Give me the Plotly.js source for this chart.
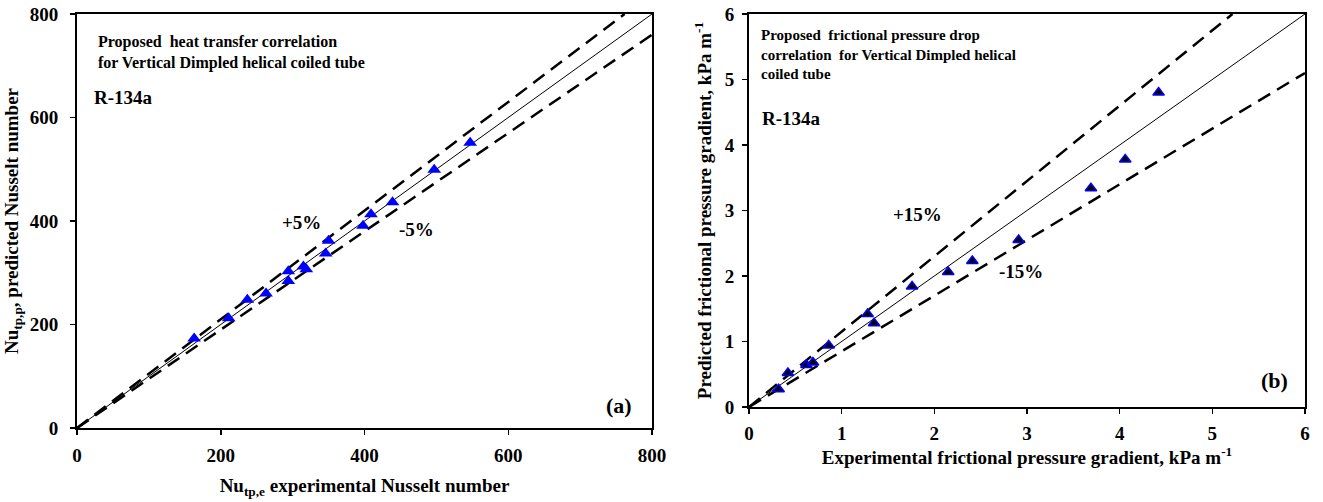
<!DOCTYPE html>
<html>
<head>
<meta charset="utf-8">
<script src="https://cdn.plot.ly/plotly-3.0.1.min.js"></script>
<style>html,body{margin:0;padding:0;background:#fff}#chart{width:1323px;height:502px}</style>
</head>
<body>
<div id="chart"></div>
<script>
// (a) heat transfer: experimental vs predicted Nusselt number
const nuExp  = [163, 211, 237, 263, 294, 294, 315, 319, 346, 350, 398, 409, 439, 497, 547];
const nuPred = [173, 212, 248, 260, 284, 303, 312, 307, 337, 362, 391, 413, 436, 499, 551];
// (b) frictional pressure gradient, kPa/m
const dpExp  = [0.32, 0.42, 0.62, 0.69, 0.86, 1.28, 1.35, 1.76, 2.15, 2.41, 2.91, 3.69, 4.06, 4.42];
const dpPred = [0.27, 0.52, 0.64, 0.68, 0.94, 1.42, 1.28, 1.84, 2.06, 2.23, 2.55, 3.34, 3.78, 4.80];
const bandA = 0.05, bandB = 0.15;
const maxA = 800, maxB = 6;
const ticksA = [0, 200, 400, 600, 800];
const ticksB = [0, 1, 2, 3, 4, 5, 6];

const W = 1323, H = 502;
const px = v => v / W, py = v => 1 - v / H;
const FONT = 'Liberation Serif, Times New Roman, serif';

function refLines(max, band, xa, ya) {
  const dash = {color: '#000', width: 2.5, dash: '14px,8px'};
  return [
    {x: [0, max], y: [0, max], mode: 'lines', line: {color: '#000', width: 1}, xaxis: xa, yaxis: ya, hoverinfo: 'skip'},
    {x: [0, max / (1 + band)], y: [0, max], mode: 'lines', line: dash, xaxis: xa, yaxis: ya, hoverinfo: 'skip'},
    {x: [0, max], y: [0, max * (1 - band)], mode: 'lines', line: dash, xaxis: xa, yaxis: ya, hoverinfo: 'skip'}
  ];
}

const traces = [
  ...refLines(maxA, bandA, 'x', 'y'),
  {x: nuExp, y: nuPred, mode: 'markers', xaxis: 'x', yaxis: 'y',
   marker: {symbol: 'triangle-up', size: 12, color: '#0000ff', line: {width: 0}}},
  ...refLines(maxB, bandB, 'x2', 'y2'),
  {x: dpExp, y: dpPred, mode: 'markers', xaxis: 'x2', yaxis: 'y2',
   marker: {symbol: 'triangle-up', size: 10, color: '#000', line: {color: '#0000ff', width: 1.5}}}
];

const axBase = {
  showgrid: false, zeroline: false, showline: true, linecolor: '#000', linewidth: 2,
  mirror: true, ticks: 'outside', ticklen: 5, tickwidth: 1.5, tickcolor: '#000',
  tickfont: {family: FONT, size: 19, color: '#000', weight: 'bold'}, fixedrange: true
};
const titleFont = {family: FONT, size: 19, color: '#000', weight: 'bold'};
const bold = (s) => ({family: FONT, size: s, color: '#000', weight: 'bold'});

const layout = {
  width: W, height: H, margin: {l: 0, r: 0, t: 0, b: 0},
  paper_bgcolor: '#fff', plot_bgcolor: '#fff', showlegend: false,
  font: {family: FONT, color: '#000'},
  xaxis: Object.assign({}, axBase, {domain: [px(77), px(652)], range: [0, maxA], tickvals: ticksA, ticklabelstandoff: 4,
    anchor: 'y', title: {text: 'Nu<sub>tp,e</sub> experimental Nusselt number', font: titleFont, standoff: 14}}),
  yaxis: Object.assign({}, axBase, {domain: [1 - 428 / H, 1 - 14 / H], range: [0, maxA], tickvals: ticksA, ticklabelstandoff: 8,
    anchor: 'x', title: {text: 'Nu<sub>tp,p</sub>, predicted Nusselt number', font: titleFont, standoff: 6}}),
  xaxis2: Object.assign({}, axBase, {domain: [px(749), px(1305)], range: [0, maxB], tickvals: ticksB, ticklabelstandoff: 3,
    anchor: 'y2', title: {text: 'Experimental frictional pressure gradient, kPa m<sup>-1</sup>', font: titleFont, standoff: 0}}),
  yaxis2: Object.assign({}, axBase, {domain: [1 - 407 / H, 1 - 14 / H], range: [0, maxB], tickvals: ticksB, ticklabelstandoff: 4,
    anchor: 'x2', title: {text: 'Predicted frictional pressure gradient, kPa m<sup>-1</sup>', font: titleFont, standoff: 8}}),
  annotations: [
    {xref: 'paper', yref: 'paper', x: px(96), y: py(31), xanchor: 'left', yanchor: 'top', align: 'left', showarrow: false,
     text: 'Proposed  heat transfer correlation<br>for Vertical Dimpled helical coiled tube', font: bold(16)},
    {xref: 'paper', yref: 'paper', x: px(92), y: py(97), xanchor: 'left', yanchor: 'middle', showarrow: false,
     text: 'R-134a', font: bold(19)},
    {xref: 'paper', yref: 'paper', x: px(301), y: py(222), xanchor: 'center', yanchor: 'middle', showarrow: false,
     text: '+5%', font: bold(19)},
    {xref: 'paper', yref: 'paper', x: px(416), y: py(229), xanchor: 'center', yanchor: 'middle', showarrow: false,
     text: '-5%', font: bold(19)},
    {xref: 'paper', yref: 'paper', x: px(619), y: py(405), xanchor: 'center', yanchor: 'middle', showarrow: false,
     text: '(a)', font: bold(22)},
    {xref: 'paper', yref: 'paper', x: px(759), y: py(25), xanchor: 'left', yanchor: 'top', align: 'left', showarrow: false,
     text: 'Proposed  frictional pressure drop<br>correlation  for Vertical Dimpled helical<br>coiled tube', font: bold(15)},
    {xref: 'paper', yref: 'paper', x: px(760), y: py(118), xanchor: 'left', yanchor: 'middle', showarrow: false,
     text: 'R-134a', font: bold(19)},
    {xref: 'paper', yref: 'paper', x: px(917), y: py(214), xanchor: 'center', yanchor: 'middle', showarrow: false,
     text: '+15%', font: bold(19)},
    {xref: 'paper', yref: 'paper', x: px(1021), y: py(271), xanchor: 'center', yanchor: 'middle', showarrow: false,
     text: '-15%', font: bold(19)},
    {xref: 'paper', yref: 'paper', x: px(1274), y: py(380), xanchor: 'center', yanchor: 'middle', showarrow: false,
     text: '(b)', font: bold(22)}
  ]
};

Plotly.newPlot('chart', traces, layout, {displayModeBar: false, staticPlot: true});
</script>
</body>
</html>
